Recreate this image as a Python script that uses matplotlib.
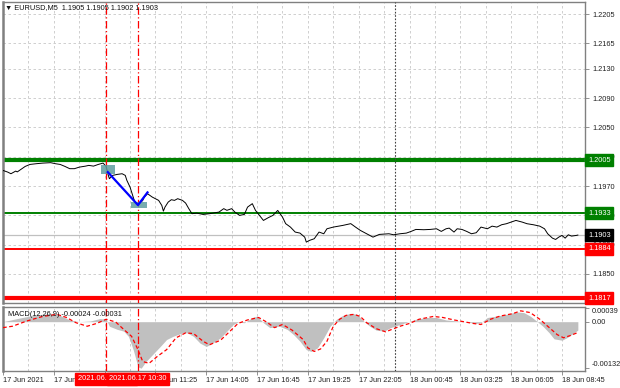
import matplotlib
matplotlib.use('Agg')
import matplotlib.pyplot as plt
import matplotlib.transforms as mtransforms
from matplotlib.patches import Rectangle

plt.rcParams['font.family'] = ['Liberation Sans', 'DejaVu Sans']

# ---------------- data (bar index = 5-minute bars from 17 Jun 03:25) ----------------
price_bar = [0, 3, 5, 8, 9, 12, 14, 17, 21, 25, 30, 33, 36, 39, 42, 45, 48, 52, 54, 57,
             60, 63, 65, 66, 67, 69, 72, 75, 77, 78, 80, 82, 83, 85, 86, 88, 89, 91, 94, 96,
             98, 100, 101, 102, 104, 106, 108, 110, 113, 115, 117, 119, 122, 126, 130, 136, 139, 141, 144, 146,
             149, 152, 154, 157, 159, 161, 164, 167, 170, 173, 176, 178, 181, 184, 187, 190, 191, 193, 196, 199,
             202, 204, 208, 214, 219, 222, 225, 229, 233, 237, 243, 246, 250, 254, 257, 260, 265, 269, 273, 276,
             279, 281, 284, 286, 289, 292, 295, 298, 301, 305, 308, 311, 314, 317, 320, 323, 327, 330, 334, 338,
             341, 343, 346, 348, 350, 352, 354, 356, 358, 361, 362]
price_val = [1.19913, 1.19890, 1.19868, 1.19904, 1.19893, 1.19937, 1.19968, 1.19995, 1.20005, 1.20013,
             1.20019, 1.20005, 1.19995, 1.19968, 1.19937, 1.19937, 1.19958, 1.19972, 1.19982, 1.19972,
             1.19995, 1.20013, 1.19968, 1.19868, 1.19800, 1.19845, 1.19859, 1.19868, 1.19845, 1.19777,
             1.19685, 1.19549, 1.19480, 1.19445, 1.19459, 1.19504, 1.19549, 1.19595, 1.19549, 1.19527,
             1.19504, 1.19435, 1.19357, 1.19412, 1.19480, 1.19513, 1.19504, 1.19527, 1.19504, 1.19467,
             1.19391, 1.19322, 1.19330, 1.19312, 1.19322, 1.19344, 1.19391, 1.19368, 1.19391, 1.19344,
             1.19299, 1.19312, 1.19412, 1.19459, 1.19367, 1.19312, 1.19230, 1.19267, 1.19299, 1.19367,
             1.19276, 1.19186, 1.19139, 1.19071, 1.19057, 1.19002, 1.18934, 1.18957, 1.18980, 1.19071,
             1.19048, 1.19116, 1.19139, 1.19162, 1.19186, 1.19139, 1.19094, 1.19048, 1.19002, 1.19039,
             1.19048, 1.19034, 1.19048, 1.19057, 1.19080, 1.19107, 1.19103, 1.19107, 1.19116, 1.19080,
             1.19116, 1.19125, 1.19071, 1.19116, 1.19107, 1.19080, 1.19048, 1.19062, 1.19139, 1.19116,
             1.19152, 1.19139, 1.19171, 1.19185, 1.19207, 1.19230, 1.19207, 1.19185, 1.19171, 1.19152,
             1.19116, 1.19048, 1.18988, 1.18970, 1.19002, 1.19025, 1.18988, 1.19034, 1.19016, 1.19025,
             1.19030]

macd_bar = [0, 9, 19, 30, 36, 42, 48, 55, 61, 65, 67, 72, 76, 79, 82, 85, 87, 90, 95, 99,
            103, 107, 113, 116, 120, 124, 128, 132, 137, 141, 145, 148, 152, 157, 160, 164, 168, 174, 179, 183,
            187, 191, 194, 198, 202, 206, 210, 214, 219, 223, 227, 231, 235, 240, 244, 248, 252, 256, 260, 267,
            273, 279, 286, 292, 298, 301, 305, 311, 317, 323, 328, 332, 336, 340, 344, 347, 352, 355, 358, 362]
macd_val = [0.0, 0.00009, 0.00018, 0.00024, 0.00018, 0.00005, 0.0, 0.00002, 0.00009, 0.00007,
            -0.00013, -0.00022, -0.00027, -0.00042, -0.00080, -0.00129, -0.00133, -0.00114, -0.00090, -0.00071,
            -0.00051, -0.00042, -0.00032, -0.00032, -0.00042, -0.00061, -0.00071, -0.00061, -0.00046, -0.00027,
            -0.00008, -0.00001, -0.00003, 0.00012, 0.00016, -0.00003, -0.00017, -0.00013, -0.00022, -0.00037,
            -0.00056, -0.00080, -0.00085, -0.00075, -0.00046, -0.00013, 0.00007, 0.00018, 0.00024, 0.00021,
            0.00002, -0.00013, -0.00024, -0.00027, -0.00017, -0.00011, -0.00005, 0.00001, 0.00007, 0.00012,
            0.00012, 0.00005, 0.00002, -0.00001, -0.00005, -0.00003, 0.00012, 0.00016, 0.00021, 0.00028,
            0.00026, 0.00016, 0.00002, -0.00013, -0.00032, -0.00049, -0.00053, -0.00046, -0.00037, -0.00024]

signal_bar = [0, 6, 15, 25, 34, 40, 46, 53, 59, 65, 71, 76, 81, 85, 88, 92, 97, 103, 109, 115,
              120, 126, 130, 137, 143, 148, 154, 161, 166, 171, 176, 182, 189, 192, 196, 200, 204, 208, 212, 216,
              221, 225, 229, 235, 241, 246, 250, 256, 262, 271, 277, 284, 290, 296, 301, 307, 313, 321, 326, 332,
              338, 343, 349, 353, 357, 362]
signal_val = [-0.00017, -0.00013, 0.00002, 0.00015, 0.00021, 0.00012, -0.00003, -0.00013, -0.00005, 0.00007,
              -0.00001, -0.00022, -0.00042, -0.00080, -0.00114, -0.00119, -0.00100, -0.00080, -0.00046, -0.00032,
              -0.00034, -0.00056, -0.00066, -0.00053, -0.00027, -0.00005, 0.00005, 0.00012, -0.00001, -0.00017,
              -0.00008, -0.00024, -0.00051, -0.00075, -0.00085, -0.00078, -0.00056, -0.00013, 0.00007, 0.00018,
              0.00021, 0.00015, -0.00003, -0.00020, -0.00029, -0.00020, -0.00013, -0.00005, 0.00007, 0.00015,
              0.00012, 0.00005, 0.0, -0.00005, -0.00008, 0.00007, 0.00016, 0.00023, 0.00031, 0.00026,
              0.00007, -0.00013, -0.00037, -0.00046, -0.00040, -0.00031]

# trade sketch
trade_bar = [66, 85, 91]
trade_val = [1.19890, 1.19440, 1.19613]
zone_bars = [(61.7, 70.5), (80.6, 90.5)]
zone_prices = [(1.19868, 1.19991), (1.19398, 1.19480)]

# horizontal levels
green_levels = [1.2005, 1.1933]
red_levels = [1.1884, 1.1817]
level_widths = [3.0, 1.4]
current_price = 1.1903

# vertical markers
signal_lines_bar = [65, 85]
signal_lines_label = ['2021.06.17 08:50', '2021.06.17 10:30']
day_sep_bar = 247

# axis labels
price_ticks = [1.2205, 1.2165, 1.2130, 1.2090, 1.2050, 1.2010, 1.1970, 1.1930, 1.1890, 1.1850]
time_ticks = [0, 32, 64, 96, 128, 160, 192, 224, 256, 288, 320, 352]
time_labels = ['17 Jun 2021', '17 Jun 06:05', '17 Jun 08:45', '17 Jun 11:25', '17 Jun 14:05',
               '17 Jun 16:45', '17 Jun 19:25', '17 Jun 22:05', '18 Jun 00:45', '18 Jun 03:25',
               '18 Jun 06:05', '18 Jun 08:45']
macd_ticks = [0.00039, 0.0, -0.00132]
macd_tick_labels = ['0.00039', '0.00', '-0.00132']

title_text = '\u25bc EURUSD,M5  1.1905 1.1905 1.1902 1.1903'
macd_text = 'MACD(12,26,9) -0.00024 -0.00031'

# ---------------- figure ----------------
W, H = 620, 388
fig = plt.figure(figsize=(W / 100, H / 100), dpi=100)
fig.patch.set_facecolor('white')


def rect(x0, y0, x1, y1):
    return [x0 / W, 1 - y1 / H, (x1 - x0) / W, (y1 - y0) / H]


ax = fig.add_axes(rect(3, 2, 585, 303))
ax2 = fig.add_axes(rect(3, 307, 585, 371))

FS = 5.3
GRID = '#c8c8c8'
SPINE = '#808080'
XMAX = 366.5

for a in (ax, ax2):
    a.set_xlim(0, XMAX)
    for s in a.spines.values():
        s.set_color(SPINE)
        s.set_linewidth(1.0)
    a.spines['left'].set_linewidth(1.8)
    a.yaxis.tick_right()
    a.tick_params(axis='y', length=3, width=0.6, color=SPINE, labelsize=FS, pad=2, labelcolor='#202020')
    for b in range(16, int(XMAX), 16):
        a.axvline(b, color=GRID, lw=0.6, ls=(0, (3, 3)), zorder=0)
    for i, b in enumerate(signal_lines_bar):
        a.axvline(b, color='red', lw=0.9, ls=(0, (6, 2, 1, 2)), zorder=3)
    a.axvline(day_sep_bar, color='#404040', lw=0.8, ls=(0, (1.5, 1.5)), zorder=3)

ax.set_ylim(1.18102, 1.22214)
ax.set_xticks([])
ax.set_yticks(price_ticks)
ax.set_yticklabels(['%.4f' % v for v in price_ticks])
for v in price_ticks:
    ax.axhline(v, color=GRID, lw=0.6, ls=(0, (3, 3)), zorder=0)

# current price line
ax.axhline(current_price, color='#c0c0c0', lw=0.9, zorder=1)
# levels
for v, w in zip(green_levels, level_widths):
    ax.axhline(v, color='#008000', lw=w, zorder=2)
for v, w in zip(red_levels, level_widths[::-1]):
    ax.axhline(v, color='#ff0000', lw=w, zorder=2)

# price line
ax.plot(price_bar, price_val, color='black', lw=0.7, zorder=4)

# entry zones and trade path
for (b0, b1), (p0, p1) in zip(zone_bars, zone_prices):
    ax.add_patch(Rectangle((b0, p0), b1 - b0, p1 - p0, facecolor='#5f9ea0', alpha=0.85,
                           edgecolor='none', zorder=5))
ax.plot(trade_bar, trade_val, color='#0000ff', lw=1.6, zorder=6)

# right-side price boxes
tr = mtransforms.blended_transform_factory(ax.transAxes, ax.transData)
box_items = [(green_levels[0], '#008000'), (green_levels[1], '#008000'),
             (current_price, '#000000'), (red_levels[0], '#ff0000'), (red_levels[1], '#ff0000')]
for v, c in box_items:
    ax.text(1.0 + 3 / 582, v, '%.4f' % v, transform=tr, ha='left', va='center', fontsize=FS,
            color='white', clip_on=False, zorder=10,
            bbox=dict(boxstyle='square,pad=0.35', facecolor=c, edgecolor=c))

fig.text(5 / W, 1 - 8 / H, title_text, fontsize=FS, va='center', ha='left', color='#101010')

# ---------------- MACD ----------------
ax2.set_ylim(-0.00141, 0.00042)
ax2.fill_between(macd_bar, macd_val, 0, color='#c0c0c0', lw=0, zorder=1)
ax2.plot(signal_bar, signal_val, color='#ff0000', lw=0.9, ls=(0, (3, 2)), zorder=4)
ax2.set_yticks(macd_ticks)
ax2.set_yticklabels(macd_tick_labels)
labs = ax2.get_yticklabels()
labs[0].set_va('top')
labs[2].set_va('bottom')
ax2.text(5 / 582, 0.93, macd_text, transform=ax2.transAxes, fontsize=FS, va='top', ha='left',
         color='#101010', zorder=10)

ax2.set_xticks(time_ticks)
ax2.set_xticklabels(time_labels)
ax2.tick_params(axis='x', length=3, width=0.6, color=SPINE, labelsize=FS, pad=1.5, labelcolor='#202020')
for lab in ax2.get_xticklabels():
    lab.set_ha('left')

trx = mtransforms.blended_transform_factory(ax2.transData, ax2.transAxes)
for b, t in zip(signal_lines_bar, signal_lines_label):
    ax2.text(b, -0.125, t, transform=trx, ha='center', va='center', fontsize=FS, color='white',
             clip_on=False, zorder=10,
             bbox=dict(boxstyle='square,pad=0.3', facecolor='#ff0000', edgecolor='#ff0000'))

fig.savefig('out.png', dpi=100, facecolor='white')
